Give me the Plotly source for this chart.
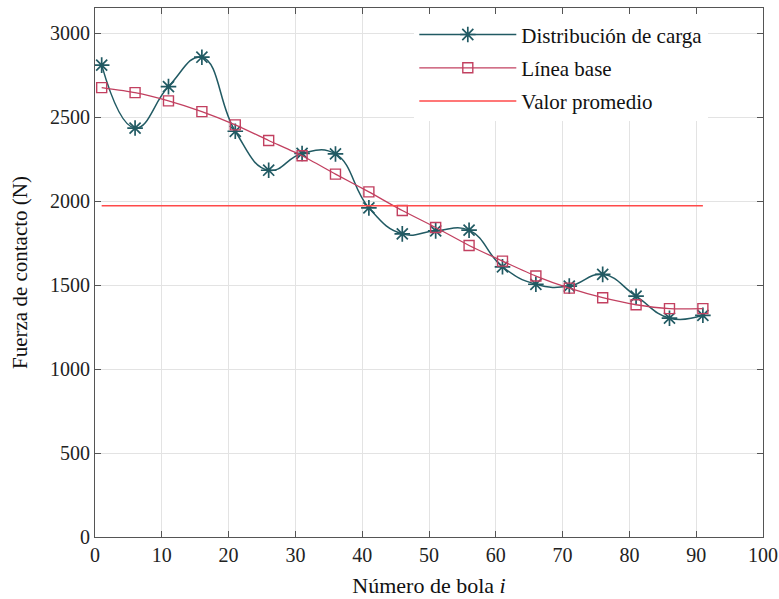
import plotly.graph_objects as go

# Ball index (every 5th ball)
ball_no = [1, 6, 11, 16, 21, 26, 31, 36, 41, 46, 51, 56, 61, 66, 71, 76, 81, 86, 91]

# Contact force per ball (N)
load_dist = [2810, 2435, 2682, 2857, 2416, 2184, 2284, 2281, 1960, 1805, 1823, 1827,
             1609, 1505, 1494, 1564, 1434, 1303, 1320]
baseline = [2676, 2646, 2597, 2533, 2454, 2361, 2270, 2161, 2055, 1944, 1843, 1736,
            1643, 1554, 1482, 1425, 1383, 1360, 1360]
mean_value = 1972

teal = "#215a63"
crimson = "#c24060"
red = "#ff4a4a"
serif = "Liberation Serif, Times New Roman, serif"

fig = go.Figure()
fig.add_trace(go.Scatter(
    x=ball_no, y=load_dist, name="Distribución de carga", legendgroup="a",
    mode="lines+markers", line=dict(color=teal, width=1.5, shape="spline", smoothing=1.3),
    marker=dict(symbol="asterisk-open", size=13, color=teal, line=dict(color=teal, width=1.7)),
))
fig.add_trace(go.Scatter(
    x=ball_no, y=baseline, name="Línea base", legendgroup="b",
    mode="lines+markers", line=dict(color=crimson, width=1.3, shape="spline", smoothing=0.6),
    marker=dict(symbol="square-open", size=10, color=crimson, line=dict(color=crimson, width=1.4)),
))
fig.add_trace(go.Scatter(
    x=[ball_no[0], ball_no[-1]], y=[mean_value, mean_value], name="Valor promedio", legendgroup="c",
    mode="lines", line=dict(color=red, width=1.5),
))

axis_common = dict(
    showline=True, linecolor="#555555", linewidth=1.2, mirror="ticks",
    ticks="inside", ticklen=6, tickcolor="#555555",
    showgrid=True, gridcolor="#e3e3e3", gridwidth=1, zeroline=False,
    tickfont=dict(family=serif, size=20, color="#222222"),
    automargin=False,
)

fig.update_layout(
    width=779, height=599,
    margin=dict(l=95, r=16, t=8, b=62),
    paper_bgcolor="white", plot_bgcolor="white",
    font=dict(family=serif, color="#111111"),
    xaxis=dict(range=[0, 100], dtick=10,
               title=dict(text="Número de bola <i>i</i>", font=dict(family=serif, size=22), standoff=12),
               **axis_common),
    yaxis=dict(range=[0, 3150], dtick=500,
               title=dict(text="Fuerza de contacto (N)", font=dict(family=serif, size=21), standoff=16),
               **axis_common),
    legend=dict(x=0.478, y=0.988, xanchor="left", yanchor="top",
                bgcolor="white", borderwidth=0, itemwidth=97, tracegroupgap=3,
                font=dict(family=serif, size=21, color="#111111")),
    showlegend=True,
)

fig.write_html("out.html")
